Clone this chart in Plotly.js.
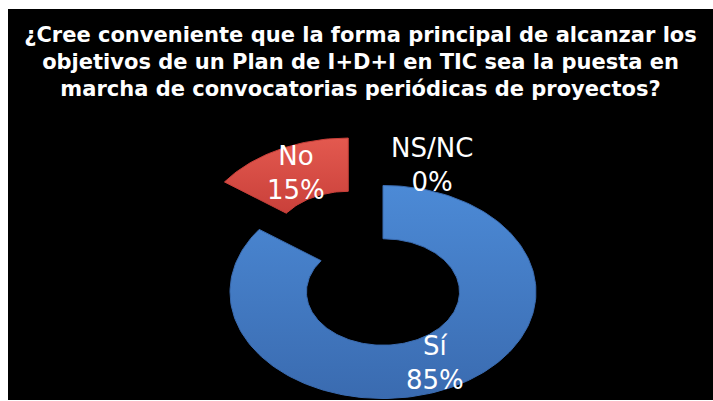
<!DOCTYPE html>
<html>
<head>
<meta charset="utf-8">
<script src="https://cdn.plot.ly/plotly-3.0.1.min.js"></script>
<style>
html,body{margin:0;padding:0;background:#fff;width:713px;height:401px;overflow:hidden;}
#chart{position:absolute;left:8px;top:9px;width:705px;height:391px;}
</style>
</head>
<body>
<div id="chart"></div>
<script>
// Data
const categories = ['Sí', 'No', 'NS/NC'];
const values = [85, 15, 0];
const titleLines = [
  '¿Cree conveniente que la forma principal de alcanzar los',
  'objetivos de un Plan de I+D+I en TIC sea la puesta en',
  'marcha de convocatorias periódicas de proyectos?'
];

// Styling
const sliceColors = ['#4780cc', '#d84b43', '#9bbb59'];
const gradLight = ['#4c8ad6', '#e3594f', '#9bbb59'];
const gradDark  = ['#3a6bb0', '#c9403a', '#9bbb59'];
const pulls = [0, 0.5, 0];
const hole = 0.5;
const labelOffsets = [[0,0],[0,0],[0.32,0.44]]; // extra shift for labels (in radius units)

const total = values.reduce((a,b)=>a+b,0);
const traces = [];
const annotations = [];
let cum = 0;
const ringMid = (1 + hole) / 2;
values.forEach((v, i) => {
  const frac = v / total;
  const a0 = Math.PI/2 - 2*Math.PI*cum;          // clockwise from 12 o'clock
  const a1 = Math.PI/2 - 2*Math.PI*(cum + frac);
  const mid = (a0 + a1) / 2;
  const dx = pulls[i]*Math.cos(mid), dy = pulls[i]*Math.sin(mid);
  if (v > 0) {
    const n = Math.max(8, Math.ceil(frac*240));
    const xs = [], ys = [];
    for (let k=0;k<=n;k++){ const a=a0+(a1-a0)*k/n; xs.push(dx+Math.cos(a)); ys.push(dy+Math.sin(a)); }
    for (let k=n;k>=0;k--){ const a=a0+(a1-a0)*k/n; xs.push(dx+hole*Math.cos(a)); ys.push(dy+hole*Math.sin(a)); }
    xs.push(xs[0]); ys.push(ys[0]);
    traces.push({
      type:'scatter', mode:'lines', x:xs, y:ys, fill:'toself',
      fillcolor: sliceColors[i],
      fillgradient:{type:'vertical', colorscale:[[0,gradDark[i]],[1,gradLight[i]]]},
      line:{color:gradDark[i], width:1}, hoverinfo:'text', text:categories[i], name:categories[i]
    });
  }
  const lx = dx + ringMid*Math.cos(mid) + labelOffsets[i][0];
  const ly = dy + ringMid*Math.sin(mid) + labelOffsets[i][1];
  annotations.push({
    x:lx, y:ly, xref:'x', yref:'y', showarrow:false,
    text: categories[i] + '<br>' + Math.round(frac*100) + '%',
    font:{family:'DejaVu Sans, sans-serif', size:26, color:'#ffffff'},
    align:'center'
  });
  cum += frac;
});

const layout = {
  width:705, height:391,
  margin:{l:0,r:0,t:0,b:0},
  paper_bgcolor:'#000000', plot_bgcolor:'#000000',
  showlegend:false,
  title:{
    text: titleLines.join('<br>'),
    x:0.5, xref:'paper', xanchor:'center',
    y:0.916, yref:'container', yanchor:'top',
    font:{family:'DejaVu Sans, sans-serif', size:21, color:'#ffffff', weight:'bold'}
  },
  xaxis:{range:[-2.451, 2.157], visible:false, fixedrange:true},
  yaxis:{range:[-1.014, 2.657], visible:false, fixedrange:true},
  annotations: annotations
};

Plotly.newPlot('chart', traces, layout, {displayModeBar:false, staticPlot:true});
</script>
</body>
</html>
